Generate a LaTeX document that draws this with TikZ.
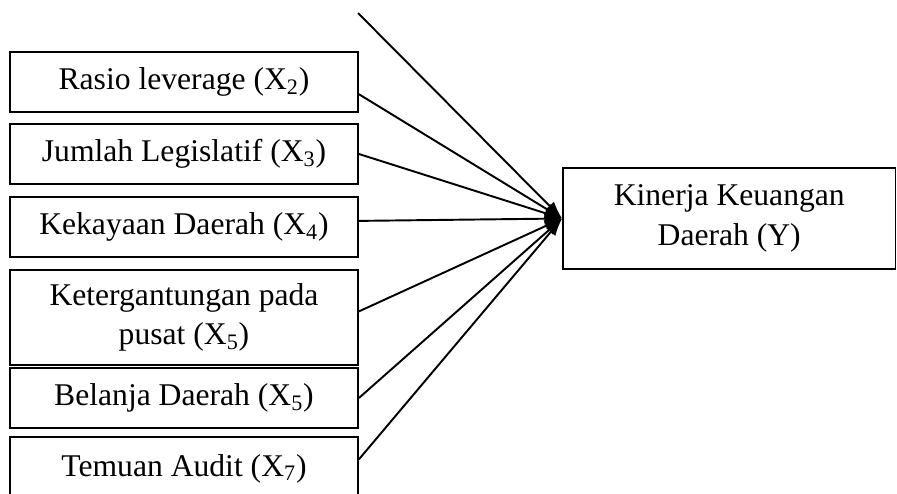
\documentclass[tikz,border=0pt]{standalone}
\usepackage{fontspec}
\setmainfont{Liberation Serif}
\usetikzlibrary{arrows.meta}
\tikzset{
  variabel/.style={draw, line width=1.1pt, rectangle, minimum width=6.96cm, inner sep=0pt,
    align=center, font=\fontsize{18}{22.5}\selectfont},
  panah/.style={-{Latex[length=10pt,width=7pt]}, line width=1.1pt}
}
\begin{document}
\begin{tikzpicture}[x=0.02cm,y=-0.02cm]
\useasboundingbox (0,0) rectangle (897,494);

\node[variabel, minimum height=1.2cm] (rasio) at (184,82) {Rasio leverage (X\textsubscript{2})};
\node[variabel, minimum height=1.2cm] (jumlah) at (184,154) {Jumlah Legislatif (X\textsubscript{3})};
\node[variabel, minimum height=1.2cm] (kekayaan) at (184,227) {Kekayaan Daerah (X\textsubscript{4})};
\node[variabel, minimum height=1.9cm] (pusat) at (184,317.5) {Ketergantungan pada\\pusat (X\textsubscript{5})};
\node[variabel, minimum height=1.2cm] (belanja) at (184,398) {Belanja Daerah (X\textsubscript{5})};
\node[variabel, minimum height=1.26cm] (temuan) at (184,468.5) {Temuan Audit (X\textsubscript{7})};

\node[variabel, minimum width=6.65cm, minimum height=2.02cm] (kinerja) at (729.25,218.5) {Kinerja Keuangan\\Daerah (Y)};

\coordinate (atas) at (358,13);

\draw[panah] (atas) -- (kinerja.west);
\draw[panah] (rasio.-4) -- (kinerja.west);
\draw[panah] (jumlah.east) -- (kinerja.west);
\draw[panah] (kekayaan.2) -- (kinerja.west);
\draw[panah] (pusat.2) -- (kinerja.west);
\draw[panah] (belanja.east) -- (kinerja.west);
\draw[panah] (temuan.3) -- (kinerja.west);
\end{tikzpicture}
\end{document}
